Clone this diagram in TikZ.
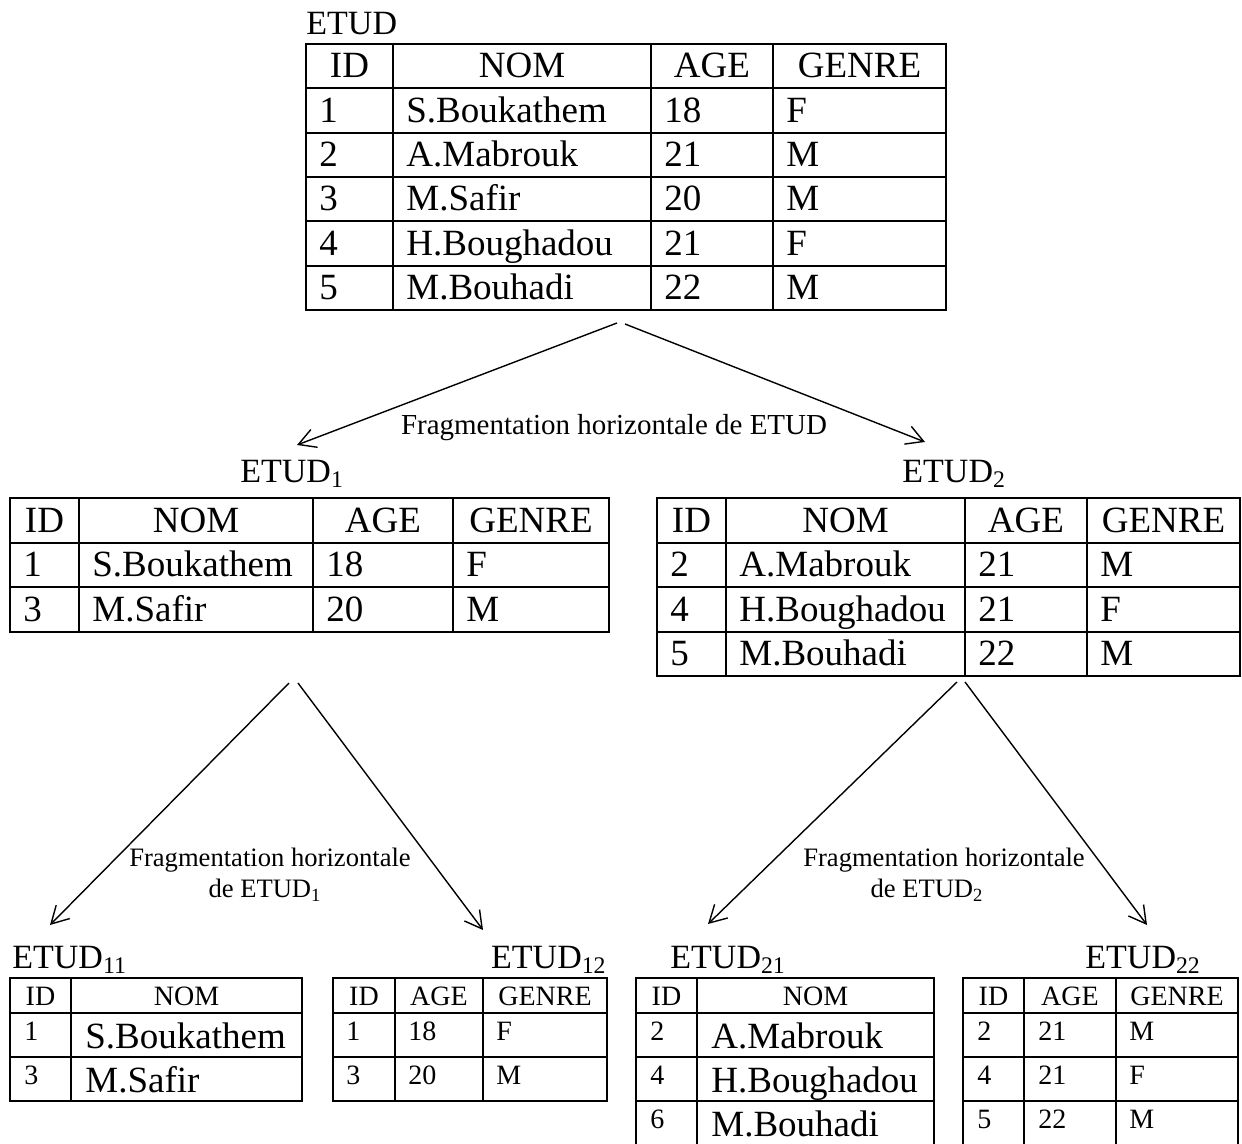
\documentclass[tikz,border=0pt]{standalone}
\usepackage{fontspec}
\setmainfont{Liberation Serif}
\usetikzlibrary{arrows.meta}
\newcommand{\tgrand}{\fontsize{18.5}{22}\selectfont}
\newcommand{\tmoyen}{\fontsize{17}{20}\selectfont}
\newcommand{\tlabel}{\fontsize{14.5}{17}\selectfont}
\newcommand{\tpetit}{\fontsize{14}{17}\selectfont}
\newcommand{\tfrag}{\fontsize{13.3}{16}\selectfont}
\tikzset{
  tab/.style={line width=1pt},
  ent/.style={anchor=base, inner sep=0pt},
  val/.style={anchor=base west, inner sep=0pt},
  titre/.style={anchor=base west, inner sep=0pt, font=\tmoyen},
  frag/.style={-{Straight Barb[length=8.5pt,width=9.5pt]}, line width=0.7pt},
}

\begin{document}
\begin{tikzpicture}[x=0.5pt, y=-0.5pt]
    \useasboundingbox (0,0) rectangle (1242,1144);

    % ETUD
    \node[titre] (etud) at (306,35) {ETUD};
    \draw[tab] (306,44) rectangle (946,310);
    \foreach \x in {393,651,773} \draw[tab] (\x,44) -- (\x,310);
    \foreach \k in {1,...,5} \draw[tab] (306,44+44.33*\k) -- (946,44+44.33*\k);
    \foreach \x/\t [count=\j] in {349.5/ID,522/NOM,712/AGE,859.5/GENRE}
        \node[ent, font=\tgrand] (etud-h\j) at (\x,78) {\t};
    \foreach \id/\nom/\age/\g [count=\i] in {1/S.Boukathem/18/F, 2/A.Mabrouk/21/M,
            3/M.Safir/20/M, 4/H.Boughadou/21/F, 5/M.Bouhadi/22/M} {
        \node[val, font=\tgrand] (etud-\i-id) at (319,78+44.33*\i) {\id};
        \node[val, font=\tgrand] (etud-\i-nom) at (406,78+44.33*\i) {\nom};
        \node[val, font=\tgrand] (etud-\i-age) at (664,78+44.33*\i) {\age};
        \node[val, font=\tgrand] (etud-\i-genre) at (786,78+44.33*\i) {\g};
    }

    % premiere fragmentation
    \coordinate (etud-g) at (617,323);
    \coordinate (etud-d) at (625,324);
    \coordinate (etud1-pointe) at (297,445);
    \coordinate (etud2-pointe) at (925,442);
    \draw[frag] (etud-g) -- (etud1-pointe);
    \draw[frag] (etud-d) -- (etud2-pointe);
    \node[ent, font=\tlabel] (frag-etud) at (614,435) {Fragmentation horizontale de ETUD};

    % ETUD1
    \node[titre] (etud1) at (240,482) {ETUD\textsubscript{1}};
    \draw[tab] (10,498) rectangle (609,631.5);
    \foreach \x in {79,313,453} \draw[tab] (\x,498) -- (\x,631.5);
    \foreach \k in {1,2} \draw[tab] (10,498+44.5*\k) -- (609,498+44.5*\k);
    \foreach \x/\t [count=\j] in {44.5/ID,196/NOM,383/AGE,531/GENRE}
        \node[ent, font=\tgrand] (etud1-h\j) at (\x,532) {\t};
    \foreach \id/\nom/\age/\g [count=\i] in {1/S.Boukathem/18/F, 3/M.Safir/20/M} {
        \node[val, font=\tgrand] (etud1-\i-id) at (23,532+44.5*\i) {\id};
        \node[val, font=\tgrand] (etud1-\i-nom) at (92,532+44.5*\i) {\nom};
        \node[val, font=\tgrand] (etud1-\i-age) at (326,532+44.5*\i) {\age};
        \node[val, font=\tgrand] (etud1-\i-genre) at (466,532+44.5*\i) {\g};
    }

    % ETUD2
    \node[titre] (etud2) at (902,482) {ETUD\textsubscript{2}};
    \draw[tab] (657,498) rectangle (1240,676);
    \foreach \x in {726,965,1087} \draw[tab] (\x,498) -- (\x,676);
    \foreach \k in {1,2,3} \draw[tab] (657,498+44.5*\k) -- (1240,498+44.5*\k);
    \foreach \x/\t [count=\j] in {691.5/ID,845.5/NOM,1026/AGE,1163.5/GENRE}
        \node[ent, font=\tgrand] (etud2-h\j) at (\x,532) {\t};
    \foreach \id/\nom/\age/\g [count=\i] in {2/A.Mabrouk/21/M, 4/H.Boughadou/21/F,
            5/M.Bouhadi/22/M} {
        \node[val, font=\tgrand] (etud2-\i-id) at (670,532+44.5*\i) {\id};
        \node[val, font=\tgrand] (etud2-\i-nom) at (739,532+44.5*\i) {\nom};
        \node[val, font=\tgrand] (etud2-\i-age) at (978,532+44.5*\i) {\age};
        \node[val, font=\tgrand] (etud2-\i-genre) at (1100,532+44.5*\i) {\g};
    }

    % fragmentation de ETUD1
    \coordinate (etud1-g) at (289,683);
    \coordinate (etud1-d) at (298,683);
    \coordinate (etud11-pointe) at (50,925);
    \coordinate (etud12-pointe) at (483,930);
    \draw[frag] (etud1-g) -- (etud11-pointe);
    \draw[frag] (etud1-d) -- (etud12-pointe);
    \node[ent, font=\tfrag] (frag-etud1-a) at (270,866) {Fragmentation horizontale};
    \node[ent, font=\tfrag] (frag-etud1-b) at (265,897) {de ETUD\textsubscript{1}};

    % fragmentation de ETUD2
    \coordinate (etud2-g) at (957,682);
    \coordinate (etud2-d) at (965,682);
    \coordinate (etud21-pointe) at (708,924);
    \coordinate (etud22-pointe) at (1147,925);
    \draw[frag] (etud2-g) -- (etud21-pointe);
    \draw[frag] (etud2-d) -- (etud22-pointe);
    \node[ent, font=\tfrag] (frag-etud2-a) at (944,866) {Fragmentation horizontale};
    \node[ent, font=\tfrag] (frag-etud2-b) at (927,897) {de ETUD\textsubscript{2}};

    % ETUD11
    \node[titre] (etud11) at (12,968) {ETUD\textsubscript{11}};
    \draw[tab] (10,978) rectangle (302,1101);
    \draw[tab] (71,978) -- (71,1101);
    \foreach \y in {1013,1057} \draw[tab] (10,\y) -- (302,\y);
    \node[ent, font=\tpetit] (etud11-h1) at (40.5,1005) {ID};
    \node[ent, font=\tpetit] (etud11-h2) at (186.5,1005) {NOM};
    \foreach \id/\nom [count=\i] in {1/S.Boukathem, 3/M.Safir} {
        \node[val, font=\tpetit] (etud11-\i-id) at (24,996+44*\i) {\id};
        \node[val, font=\tgrand] (etud11-\i-nom) at (85,1004+44*\i) {\nom};
    }

    % ETUD12
    \node[titre, anchor=base east] (etud12) at (607,968) {ETUD\textsubscript{12}};
    \draw[tab] (333,978) rectangle (607,1101);
    \foreach \x in {395,483} \draw[tab] (\x,978) -- (\x,1101);
    \foreach \y in {1013,1057} \draw[tab] (333,\y) -- (607,\y);
    \foreach \x/\t [count=\j] in {364/ID,439/AGE,545/GENRE}
        \node[ent, font=\tpetit] (etud12-h\j) at (\x,1005) {\t};
    \foreach \id/\age/\g [count=\i] in {1/18/F, 3/20/M} {
        \node[val, font=\tpetit] (etud12-\i-id) at (346,996+44*\i) {\id};
        \node[val, font=\tpetit] (etud12-\i-age) at (408,996+44*\i) {\age};
        \node[val, font=\tpetit] (etud12-\i-genre) at (496,996+44*\i) {\g};
    }

    % ETUD21
    \node[titre] (etud21) at (670,968) {ETUD\textsubscript{21}};
    \draw[tab] (636,978) rectangle (934,1146);
    \draw[tab] (697,978) -- (697,1146);
    \foreach \y in {1013,1057,1101} \draw[tab] (636,\y) -- (934,\y);
    \node[ent, font=\tpetit] (etud21-h1) at (666.5,1005) {ID};
    \node[ent, font=\tpetit] (etud21-h2) at (815.5,1005) {NOM};
    \foreach \id/\nom [count=\i] in {2/A.Mabrouk, 4/H.Boughadou, 6/M.Bouhadi} {
        \node[val, font=\tpetit] (etud21-\i-id) at (650,996+44*\i) {\id};
        \node[val, font=\tgrand] (etud21-\i-nom) at (711,1004+44*\i) {\nom};
    }

    % ETUD22
    \node[titre] (etud22) at (1085,968) {ETUD\textsubscript{22}};
    \draw[tab] (963,978) rectangle (1238,1146);
    \foreach \x in {1024,1116} \draw[tab] (\x,978) -- (\x,1146);
    \foreach \y in {1013,1057,1101} \draw[tab] (963,\y) -- (1238,\y);
    \foreach \x/\t [count=\j] in {993.5/ID,1070/AGE,1177/GENRE}
        \node[ent, font=\tpetit] (etud22-h\j) at (\x,1005) {\t};
    \foreach \id/\age/\g [count=\i] in {2/21/M, 4/21/F, 5/22/M} {
        \node[val, font=\tpetit] (etud22-\i-id) at (977,996+44*\i) {\id};
        \node[val, font=\tpetit] (etud22-\i-age) at (1038,996+44*\i) {\age};
        \node[val, font=\tpetit] (etud22-\i-genre) at (1129,996+44*\i) {\g};
    }
\end{tikzpicture}
\end{document}
